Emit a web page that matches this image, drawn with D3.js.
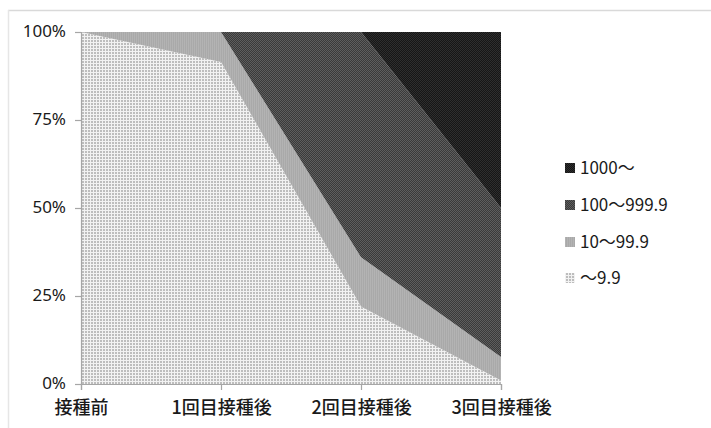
<!DOCTYPE html>
<html>
<head>
<meta charset="utf-8">
<script src="https://cdn.jsdelivr.net/npm/d3@7"></script>
<style>
  body { margin: 0; background: #fff; }
  text { font-family: "Noto Sans CJK JP", "Noto Sans", sans-serif; fill: #1a1a1a; }
</style>
</head>
<body>
<script>
var categories = ['接種前', '1回目接種後', '2回目接種後', '3回目接種後'];
var seriesNames = ['～9.9', '10～99.9', '100～999.9', '1000～'];
var lowValues = [100, 91.5, 22, 1];
var midValues = [0, 8.5, 14, 6.7];
var highValues = [0, 0, 64, 42.3];
var topValues = [0, 0, 0, 50];
var yTicks = [0, 25, 50, 75, 100];

var width = 711, height = 428;
var plotLeft = 81, plotRight = 501, plotTop = 32, plotBottom = 384;

var rows = categories.map(function(c, i) {
  return {cat: c, '～9.9': lowValues[i], '10～99.9': midValues[i],
          '100～999.9': highValues[i], '1000～': topValues[i]};
});

var svg = d3.select('body').append('svg')
  .attr('width', width)
  .attr('height', height);

// patterns for the greyscale fills
var defs = svg.append('defs');
var p0 = defs.append('pattern').attr('id', 'pat0').attr('patternUnits', 'userSpaceOnUse')
  .attr('width', 3).attr('height', 3);
p0.append('rect').attr('width', 3).attr('height', 3).attr('fill', '#f2f2f2');
p0.append('rect').attr('x', 1).attr('y', 1).attr('width', 2).attr('height', 2).attr('fill', '#bdbdbd');

var p1 = defs.append('pattern').attr('id', 'pat1').attr('patternUnits', 'userSpaceOnUse')
  .attr('width', 2).attr('height', 2);
p1.append('rect').attr('width', 2).attr('height', 2).attr('fill', '#a9a9a9');
p1.append('rect').attr('width', 1).attr('height', 2).attr('fill', '#b3b3b3');

var p2 = defs.append('pattern').attr('id', 'pat2').attr('patternUnits', 'userSpaceOnUse')
  .attr('width', 2).attr('height', 2);
p2.append('rect').attr('width', 2).attr('height', 2).attr('fill', '#3a3a3a');
p2.append('rect').attr('width', 1).attr('height', 1).attr('fill', '#5e5e5e');
p2.append('rect').attr('x', 1).attr('y', 1).attr('width', 1).attr('height', 1).attr('fill', '#5e5e5e');

var p3 = defs.append('pattern').attr('id', 'pat3').attr('patternUnits', 'userSpaceOnUse')
  .attr('width', 2).attr('height', 2);
p3.append('rect').attr('width', 2).attr('height', 2).attr('fill', '#161616');
p3.append('rect').attr('width', 1).attr('height', 1).attr('fill', '#2e2e2e');
p3.append('rect').attr('x', 1).attr('y', 1).attr('width', 1).attr('height', 1).attr('fill', '#2e2e2e');

var fills = ['url(#pat0)', 'url(#pat1)', 'url(#pat2)', 'url(#pat3)'];

// chart frame
svg.append('line').attr('x1', 8).attr('x2', width).attr('y1', 10.5).attr('y2', 10.5)
  .attr('stroke', '#d9d9d9').attr('stroke-width', 1.5);
svg.append('line').attr('x1', 8.5).attr('x2', 8.5).attr('y1', 10).attr('y2', height)
  .attr('stroke', '#e6e6e6').attr('stroke-width', 1.5);

var x = d3.scalePoint().domain(categories).range([plotLeft, plotRight]);
var y = d3.scaleLinear().domain([0, 100]).range([plotBottom, plotTop]);

var stack = d3.stack().keys(seriesNames);
var layers = stack(rows);

var area = d3.area()
  .x(function(d) { return x(d.data.cat); })
  .y0(function(d) { return y(d[0]); })
  .y1(function(d) { return y(d[1]); });

svg.selectAll('path.layer').data(layers).enter().append('path')
  .attr('class', 'layer')
  .attr('d', area)
  .attr('fill', function(d, i) { return fills[i]; });

// axes
var yAxis = svg.append('g').attr('transform', 'translate(' + plotLeft + ',0)')
  .call(d3.axisLeft(y).tickValues(yTicks).tickSize(6).tickPadding(9)
    .tickFormat(function(d) { return d + '%'; }));
yAxis.selectAll('text').style('font-size', '17px').style('font-family', '"Noto Sans", sans-serif')
  .attr('dy', '0.28em');

var xAxis = svg.append('g').attr('transform', 'translate(0,' + plotBottom + ')')
  .call(d3.axisBottom(x).tickSize(6).tickPadding(11));
xAxis.selectAll('text').style('font-size', '18px').style('font-weight', 500);

svg.selectAll('.domain, .tick line').attr('stroke', '#a6a6a6').attr('stroke-width', 1.2);

// legend, top series first
var legendY = [168, 205, 242, 278];
var legend = svg.selectAll('g.legend').data(seriesNames.slice().reverse()).enter().append('g')
  .attr('class', 'legend')
  .attr('transform', function(d, i) { return 'translate(565,' + legendY[i] + ')'; });
legend.append('rect').attr('x', 0).attr('y', -5).attr('width', 10).attr('height', 10)
  .attr('fill', function(d, i) { return fills[3 - i]; });
legend.append('text').attr('x', 15).attr('dy', '0.35em')
  .style('font-size', '17px')
  .text(function(d) { return d; });
</script>
</body>
</html>
